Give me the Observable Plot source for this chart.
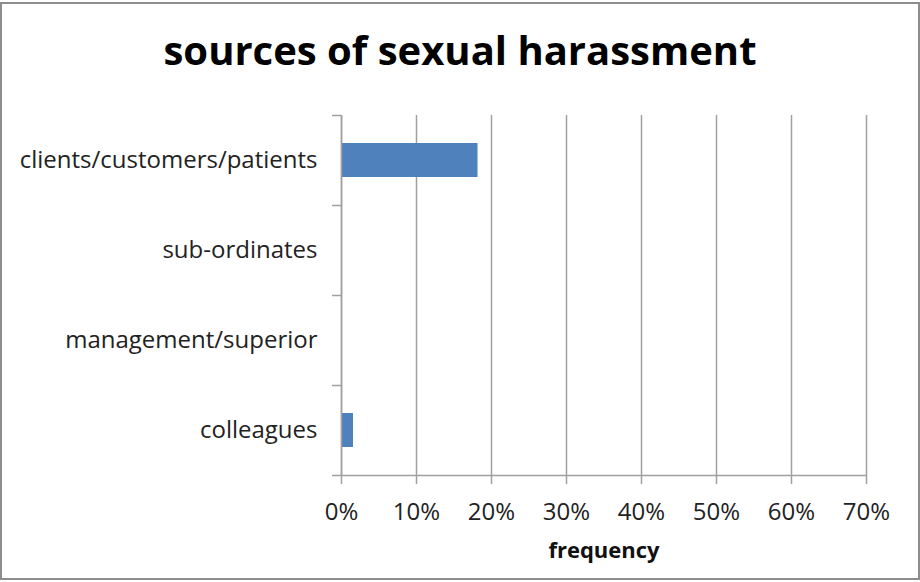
<!DOCTYPE html>
<html>
<head>
<meta charset="utf-8">
<script src="https://cdn.jsdelivr.net/npm/d3@7"></script>
<script src="https://cdn.jsdelivr.net/npm/@observablehq/plot@0.6"></script>
<style>
  body { margin: 0; background: #fff; }
  #wrap { position: relative; width: 920px; height: 582px; overflow: hidden; font-family: "Open Sans", sans-serif; }
  #title { position: absolute; left: 0; top: 30px; width: 920px; text-align: center; font-size: 40px; font-weight: 700; color: #000; line-height: 1; white-space: nowrap; }
  #chart { position: absolute; left: 0; top: 95px; }
  #border { position: absolute; left: 0; top: 2px; width: 920px; height: 578px; border: 2px solid #8d8d8d; box-sizing: border-box; pointer-events: none; }
</style>
</head>
<body>
<div id="wrap">
  <div id="title">sources of sexual harassment</div>
  <div id="chart"></div>
  <div id="border"></div>
</div>
<script>
const categories = ["clients/customers/patients", "sub-ordinates", "management/superior", "colleagues"];
const values = [0.182, 0, 0, 0.016];
const xTicks = [0, 0.1, 0.2, 0.3, 0.4, 0.5, 0.6, 0.7];
const xLabel = "frequency";

const data = categories.map((c, i) => ({category: c, value: values[i]}));
const gray = "#a0a0a0";

const chart = Plot.plot({
  width: 920,
  height: 487,
  marginLeft: 341,
  marginRight: 54,
  marginTop: 20,
  marginBottom: 107,
  style: {fontFamily: "Open Sans, sans-serif", background: "transparent"},
  x: {domain: [0, 0.7], label: null},
  y: {domain: categories, paddingInner: 0.62, paddingOuter: 0.31, label: null},
  marks: [
    Plot.gridX({ticks: xTicks, stroke: gray, strokeOpacity: 1, strokeWidth: 1.5}),
    Plot.barX(data, {x: "value", y: "category", fill: "#4F81BD"}),
    Plot.ruleX([0], {stroke: gray, strokeWidth: 1.5}),
    Plot.axisX({ticks: xTicks, tickFormat: d3.format(".0%"), tickSize: 9, tickPadding: 18, fontSize: 24, stroke: gray, strokeWidth: 1.5, fill: "#222", label: null}),
    Plot.axisY({tickSize: 0, tickPadding: 24, fontSize: 24, fill: "#222", label: null}),
    Plot.axisY({tickSize: 9, tickFormat: () => "", dy: -45, stroke: gray, strokeWidth: 1.5, label: null}),
    Plot.tickY([categories[categories.length - 1]], {y: d => d, dy: 45, insetLeft: -9, stroke: gray, strokeWidth: 1.5}),
    Plot.text([xLabel], {text: d => d, frameAnchor: "bottom", dy: 82, fontSize: 22, fontWeight: "bold", fill: "#111"})
  ]
});
document.getElementById("chart").appendChild(chart);
</script>
</body>
</html>
